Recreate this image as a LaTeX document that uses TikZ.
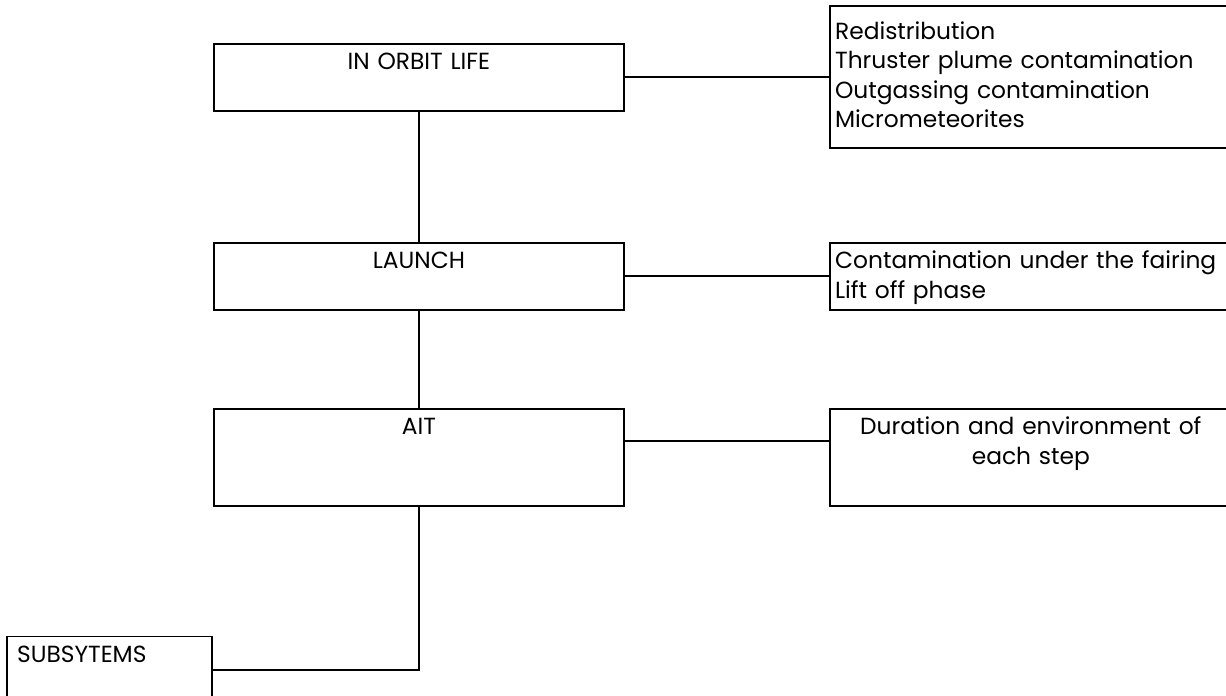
\documentclass[tikz,border=0pt]{standalone}
\usepackage{fontspec}
\setmainfont{Poppins}
\usetikzlibrary{positioning}
\begin{document}
\begin{tikzpicture}
	[x=0.75pt,y=-0.75pt,line width=1.4pt,font=\fontsize{17.5}{22}\selectfont,
	stage/.style={draw,text width=301.5pt,inner xsep=3pt,inner ysep=0pt,align=center,text height=19.5pt,text depth=30.75pt},
	effect/.style={draw,text width=293.5pt,inner xsep=4pt,inner ysep=0pt,align=left,text height=19.5pt,text depth=30.75pt}]
	\useasboundingbox (0,0) rectangle (1226,695);
	\clip (0,0) rectangle (1226,695);
	\node[stage,anchor=north west] (orbit) at (213,43) {IN ORBIT LIFE};
	\node[stage] (launch) [below=97.5pt of orbit] {LAUNCH};
	\node[stage,text depth=53.25pt] (ait) [below=72.75pt of launch] {AIT};
	\node[stage,text width=138.75pt,inner xsep=7.5pt,align=left] (subsys) [below=96.75pt of ait.south west,anchor=north east] {SUBSYTEMS};
	\node[effect,text height=24.75pt,text depth=81.75pt] (orbitfx) [right=153pt of orbit] {Redistribution\\Thruster plume contamination\\Outgassing contamination\\Micrometeorites};
	\node[effect] (launchfx) [right=153pt of launch] {Contamination under the fairing\\Lift off phase};
	\node[effect,align=center,text depth=53.25pt] (aitfx) [right=153pt of ait] {Duration and environment of\\each step};
	\coordinate (aitout) at ([yshift=-24.75pt]ait.north east);
	\draw (orbit.east) -- (orbitfx.west);
	\draw (orbit.south) -- (launch.north);
	\draw (launch.east) -- (launchfx.west);
	\draw (launch.south) -- (ait.north);
	\draw (aitout) -- (aitout -| aitfx.west);
	\draw (ait.south) |- (subsys.east);
	\end{tikzpicture}
\end{document}
